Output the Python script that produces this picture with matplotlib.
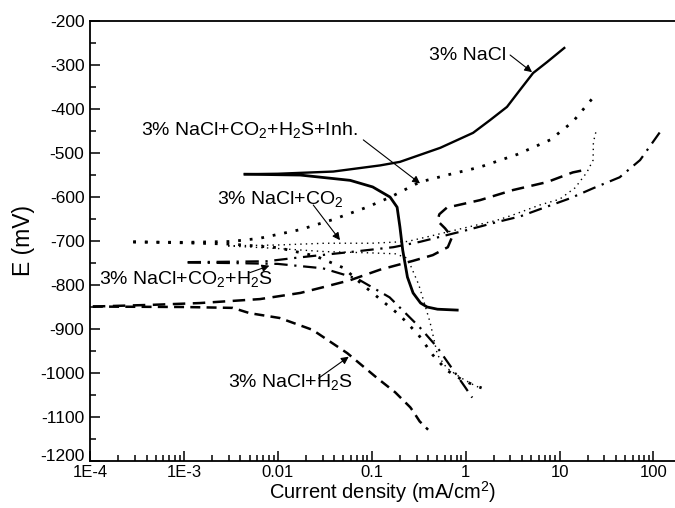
import numpy as np
import matplotlib
matplotlib.use("Agg")
import matplotlib.pyplot as plt
import matplotlib.transforms as mtransforms
from matplotlib.ticker import FixedLocator, FixedFormatter, LogLocator, NullFormatter, MultipleLocator

plt.rcParams['font.family'] = ['Liberation Sans', 'DejaVu Sans']
plt.rcParams['mathtext.fontset'] = 'custom'
plt.rcParams['mathtext.rm'] = 'Liberation Sans'
plt.rcParams['mathtext.it'] = 'Liberation Sans'
plt.rcParams['axes.unicode_minus'] = False

# ---- data (log10 of current density in mA/cm2, potential in mV) ----
nacl_an_logi = [-2.35, -2.0, -1.41, -0.91, -0.70, -0.27, 0.079, 0.26, 0.44, 0.58, 0.718, 0.867, 1.05]
nacl_an_E    = [-549, -548, -543, -529, -521, -489, -455, -426, -396, -357, -319, -294, -262]
nacl_ca_logi = [-2.35, -1.76, -1.23, -0.99, -0.805, -0.73, -0.70, -0.67, -0.62, -0.56, -0.48, -0.41, -0.3, -0.09]
nacl_ca_E    = [-549, -551, -563, -578, -601, -624, -669, -722, -783, -819, -842, -851, -856, -858]

inh_an_logi = [-3.54, -3.0, -2.5, -2.2, -1.76, -1.41, -1.05, -0.8, -0.49, -0.2, 0.15, 0.55, 0.9, 1.14, 1.38]
inh_an_E    = [-703, -704, -702, -695, -675, -652, -624, -601, -567, -551, -533, -504, -471, -430, -369]
inh_ca_logi = [-3.54, -3.0, -2.5, -2.0, -1.6, -1.3, -1.1, -0.9, -0.7, -0.5, -0.35, -0.2, -0.05, 0.08, 0.17]
inh_ca_E    = [-703, -705, -708, -716, -735, -762, -800, -835, -870, -915, -960, -995, -1015, -1028, -1035]

co2_an_logi = [-2.53, -2.0, -1.5, -1.0, -0.62, -0.38, -0.03, 0.33, 0.5, 0.79, 1.0, 1.165, 1.29, 1.357, 1.36, 1.389]
co2_an_E    = [-712, -710, -706, -706, -702, -690, -672, -654, -642, -619, -606, -580, -545, -517, -476, -451]
co2_ca_logi = [-2.53, -2.0, -1.5, -1.0, -0.75, -0.62, -0.56, -0.5, -0.45, -0.38, -0.3, -0.2, -0.05, 0.1, 0.17]
co2_ca_E    = [-712, -718, -725, -728, -730, -740, -770, -800, -835, -885, -960, -990, -1012, -1030, -1036]

co2h2s_an_logi = [-2.96, -2.5, -2.12, -1.76, -1.23, -0.77, -0.49, 0.015, 0.33, 0.58, 0.824, 1.11, 1.357, 1.64, 1.857, 2.07]
co2h2s_an_E    = [-749, -748, -747, -738, -726, -715, -703, -676, -658, -645, -626, -604, -581, -556, -517, -453]
co2h2s_ca_logi = [-2.96, -2.5, -2.0, -1.52, -1.16, -0.81, -0.49, -0.305, -0.134, 0.0, 0.047, 0.07]
co2h2s_ca_E    = [-750, -751, -753, -763, -786, -829, -897, -942, -994, -1035, -1050, -1057]

h2s_an_logi = [-3.97, -3.33, -2.83, -2.19, -1.76, -1.5, -1.23, -0.91, -0.56, -0.35, -0.19, -0.145,
               -0.22, -0.30, -0.28, -0.2, 0.153, 0.505, 0.866, 1.14, 1.23]
h2s_an_E    = [-850, -846, -842, -833, -819, -805, -790, -766, -746, -733, -715, -692,
               -672, -655, -640, -625, -608, -585, -567, -545, -541]
h2s_ca_logi = [-3.97, -3.0, -2.48, -2.30, -1.98, -1.63, -1.26, -0.94, -0.75, -0.59, -0.56, -0.49, -0.40]
h2s_ca_E    = [-850, -851, -853, -865, -876, -903, -956, -1013, -1045, -1079, -1088, -1111, -1130]

xticks = [1e-4, 1e-3, 1e-2, 1e-1, 1, 10, 100]
xticklabels = ['1E-4', '1E-3', '0.01', '0.1', '1', '10', '100']
yticks = list(range(-1200, -100, 100))
yticklabels = [str(v) for v in yticks]

fig = plt.figure(figsize=(6.75, 5.08), dpi=100)
ax = fig.add_axes([90/675, 1 - 460.5/508, 1 - 90/675, (460.5 - 20.7)/508])

def p(logi):
    return np.power(10.0, np.array(logi))

k = 'black'
# 3% NaCl (solid)
ax.plot(p(nacl_an_logi), nacl_an_E, color=k, lw=1.7, ls='-')
ax.plot(p(nacl_ca_logi), nacl_ca_E, color=k, lw=2.0, ls='-')
# Inhibitor (sparse dots)
ax.plot(p(inh_an_logi), inh_an_E, color=k, lw=2.0, ls=(0, (1, 3.2)))
ax.plot(p(inh_ca_logi), inh_ca_E, color=k, lw=2.0, ls=(0, (1, 3.2)))
# CO2 (fine dots)
ax.plot(p(co2_an_logi), co2_an_E, color=k, lw=1.0, ls=(0, (1, 3)))
ax.plot(p(co2_ca_logi), co2_ca_E, color=k, lw=1.0, ls=(0, (1, 3)))
# CO2 + H2S (dash-dot)
ax.plot(p(co2h2s_an_logi), co2h2s_an_E, color=k, lw=1.6, ls=(0, (6, 3, 1, 3)))
ax.plot(p(co2h2s_ca_logi), co2h2s_ca_E, color=k, lw=1.6, ls=(0, (6, 3, 1, 3)))
# H2S (dashed)
ax.plot(p(h2s_an_logi), h2s_an_E, color=k, lw=1.8, ls=(0, (5, 3)))
ax.plot(p(h2s_ca_logi), h2s_ca_E, color=k, lw=1.8, ls=(0, (4, 2.5)))

ax.set_xscale('log')
ax.set_xlim(1e-4, 10**2.229)
ax.set_ylim(-1200, -200)

ax.xaxis.set_major_locator(FixedLocator(xticks))
ax.xaxis.set_major_formatter(FixedFormatter(xticklabels))
ax.xaxis.set_minor_locator(LogLocator(base=10, subs=np.arange(2, 10), numticks=20))
ax.xaxis.set_minor_formatter(NullFormatter())
ax.yaxis.set_major_locator(FixedLocator(yticks))
ax.yaxis.set_major_formatter(FixedFormatter(yticklabels))
ax.yaxis.set_minor_locator(MultipleLocator(50))

ax.tick_params(which='both', direction='in', top=False, right=False, labelsize=12.5, width=1.1)
ax.tick_params(axis='x', which='major', length=7, pad=3, labelsize=12)
ax.tick_params(axis='y', which='major', length=7, pad=4)
ax.tick_params(which='minor', length=4)
ax.spines['right'].set_visible(False)
for s in ['left', 'bottom', 'top']:
    ax.spines[s].set_linewidth(1.3)

ax.set_xlabel('Current density (mA/cm$^2$)', fontsize=14.5, labelpad=-0.5)
ax.set_ylabel('E (mV)', fontsize=16.5, labelpad=4)

# lift the bottom y tick label slightly so it clears the first x tick label
fig.canvas.draw()
lab0 = ax.yaxis.get_majorticklabels()[0]
lab0.set_transform(lab0.get_transform() + mtransforms.ScaledTranslation(0, 4/72, fig.dpi_scale_trans))

fs = 14
arrow = dict(arrowstyle='-|>', color='black', lw=0.8, mutation_scale=11, shrinkA=0, shrinkB=0)

ax.text(10**-0.39, -289.5, '3% NaCl', fontsize=fs, ha='left', va='baseline')
ax.annotate('', xy=(10**0.707, -317), xytext=(10**0.473, -278), arrowprops=arrow)

ax.text(10**-3.455, -460, '3% NaCl+CO$_2$+H$_2$S+Inh.', fontsize=fs, ha='left', va='baseline')
ax.annotate('', xy=(10**-0.486, -570), xytext=(10**-1.09, -471), arrowprops=arrow)

ax.text(10**-2.651, -617, '3% NaCl+CO$_2$', fontsize=fs, ha='left', va='baseline')
ax.annotate('', xy=(10**-1.338, -699), xytext=(10**-1.623, -619), arrowprops=arrow)

ax.text(10**-3.904, -798, '3% NaCl+CO$_2$+H$_2$S', fontsize=fs, ha='left', va='baseline')
ax.annotate('', xy=(10**-2.09, -757), xytext=(10**-2.3, -773), arrowprops=arrow)

ax.text(10**-2.53, -1032, '3% NaCl+H$_2$S', fontsize=fs, ha='left', va='baseline')
ax.annotate('', xy=(10**-1.245, -964), xytext=(10**-1.567, -1013), arrowprops=arrow)

fig.savefig('out.png', dpi=100)
